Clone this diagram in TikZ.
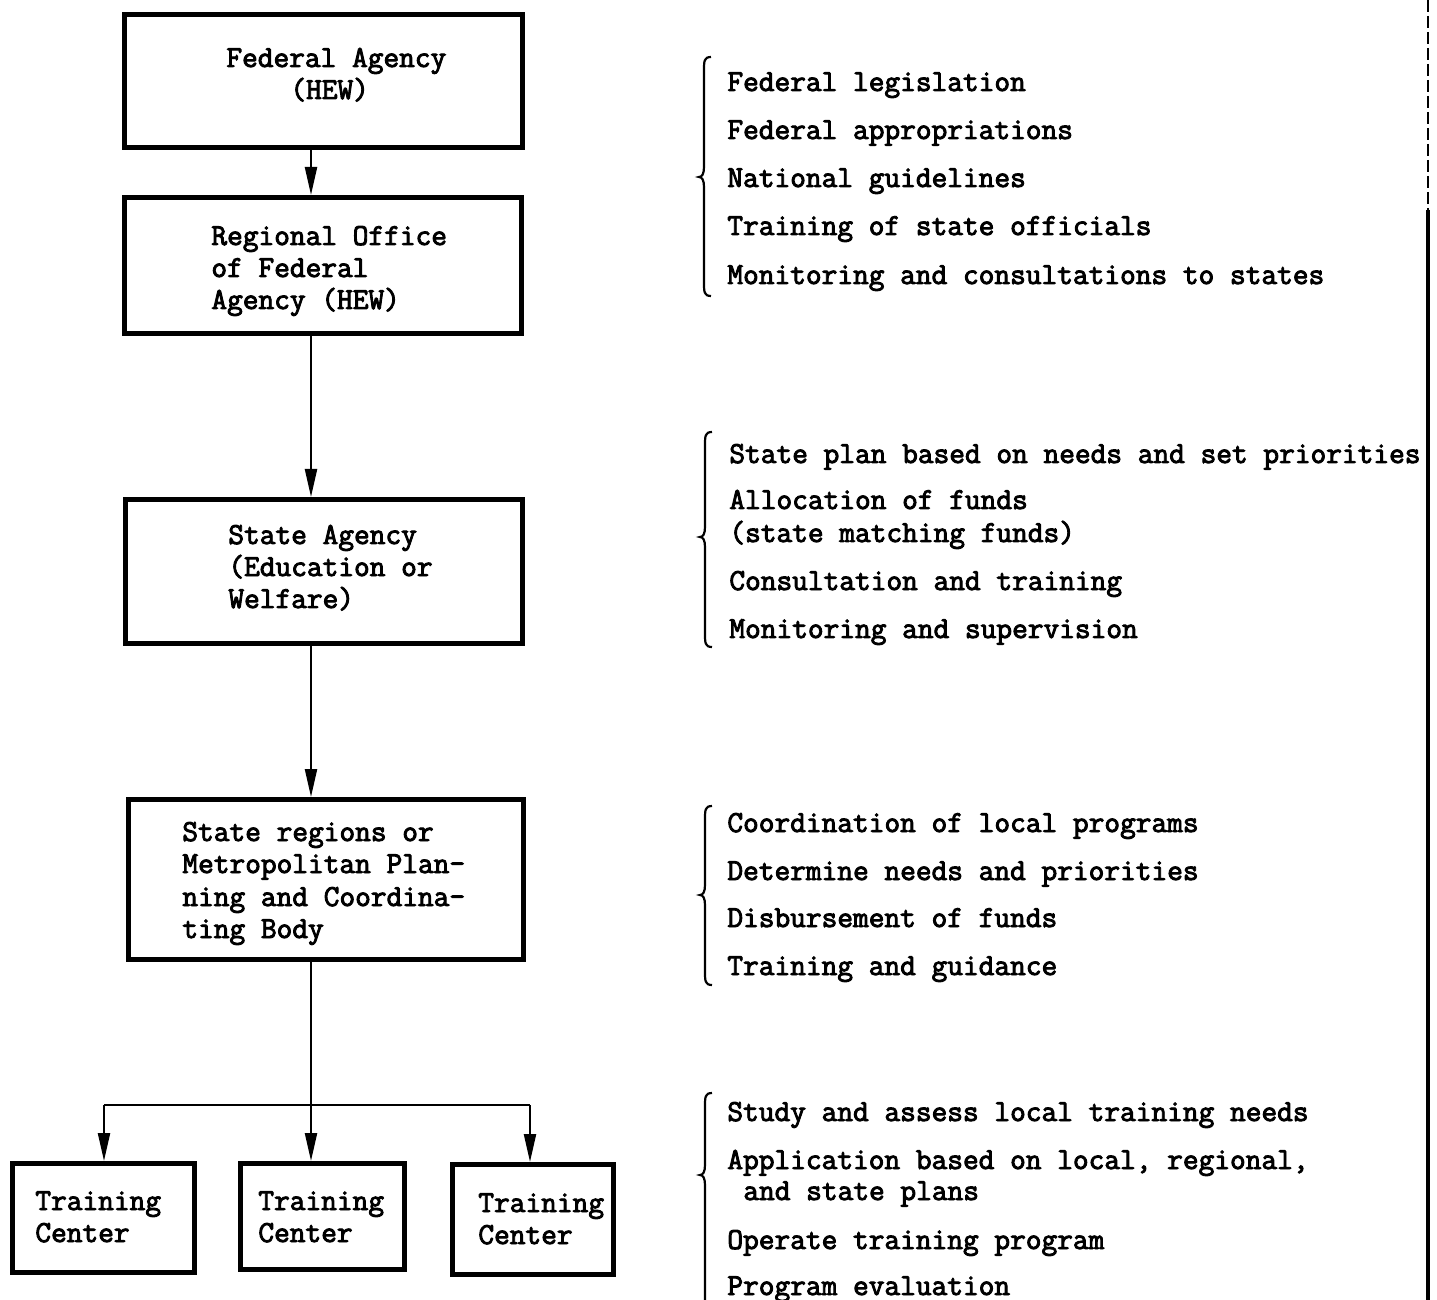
\documentclass[tikz,border=0pt]{standalone}
\usepackage{fontspec}
\newfontfamily\twfont{Latin Modern Mono}[FakeBold=3]
\usetikzlibrary{arrows.meta}
\newcommand\tfs{\fontsize{15.25}{16}\selectfont\twfont}
\newcommand\mybrace[4]{\draw[brc] ({#1+7},#2) .. controls (#1,#2) and (#1,{#2+4}) .. (#1,{#2+14}) -- (#1,{#3-10}) .. controls (#1,{#3-3}) and ({#1-2},#3) .. ({#1-5},#3) .. controls ({#1-2},#3) and (#1,{#3+3}) .. (#1,{#3+10}) -- (#1,{#4-14}) .. controls (#1,{#4-4}) and (#1,#4) .. ({#1+7},#4);}
\begin{document}
\begin{tikzpicture}[x=0.5pt,y=-0.5pt,
  box/.style={draw, line width=2.5pt, inner sep=0pt},
  lbl/.style={anchor=base west, inner sep=0pt, font=\tfs},
  arr/.style={line width=1.1pt, -{Triangle[length=14pt,width=6pt]}},
  conn/.style={line width=1.1pt},
  brc/.style={line width=1.1pt}]
\fill[white] (0,0) rectangle (1437,1300);
\useasboundingbox (0,0) rectangle (1437,1300);

% boxes
\node[box, minimum width=199pt, minimum height=66.5pt] (b1) at (323.5,81) {};
\node[box, minimum width=198.5pt, minimum height=68pt] (b2) at (323,265.5) {};
\node[box, minimum width=198.5pt, minimum height=72pt] (b3) at (324,571.5) {};
\node[box, minimum width=197.5pt, minimum height=80pt] (b4) at (326,879.5) {};
\node[box, minimum width=91pt, minimum height=54.5pt] (tc1) at (103.5,1218) {};
\node[box, minimum width=82pt, minimum height=53pt] (tc2) at (322.5,1216.5) {};
\node[box, minimum width=80.5pt, minimum height=55pt] (tc3) at (533,1219.5) {};

% box texts
\node[lbl] (t1a) at (226,67) {Federal Agency};
\node[lbl] (t1b) at (290,99) {(HEW)};
\node[lbl] (t2a) at (211,245) {Regional Office};
\node[lbl] (t2b) at (211,277) {of Federal};
\node[lbl] (t2c) at (211,309) {Agency (HEW)};
\node[lbl] (t3a) at (228,544) {State Agency};
\node[lbl] (t3b) at (228,576) {(Education or};
\node[lbl] (t3c) at (228,608) {Welfare)};
\node[lbl] (t4a) at (182,841) {State regions or};
\node[lbl] (t4b) at (182,873) {Metropolitan Plan-};
\node[lbl] (t4c) at (182,906) {ning and Coordina-};
\node[lbl] (t4d) at (182,938) {ting Body};
\node[lbl] (c1a) at (35,1210) {Training};
\node[lbl] (c1b) at (35,1242) {Center};
\node[lbl] (c2a) at (258,1210) {Training};
\node[lbl] (c2b) at (258,1242) {Center};
\node[lbl] (c3a) at (478,1212) {Training};
\node[lbl] (c3b) at (478,1244) {Center};

% connectors
\coordinate (mx) at (311,0);
\draw[arr] (b1.south -| mx) -- (b2.north -| mx);
\draw[arr] (b2.south -| mx) -- (b3.north -| mx);
\draw[arr] (b3.south -| mx) -- (b4.north -| mx);
\draw[arr] (b4.south -| mx) -- (tc2.north -| mx);
\coordinate (fl) at (104,1105);
\coordinate (fr) at (530,1105);
\draw[conn] (fl) -- (fr);
\draw[arr] (fl) -- (fl |- tc1.north);
\draw[arr] (fr) -- (fr |- tc3.north);

% right side lists
\mybrace{704}{57}{177}{296}
\node[lbl] (r1a) at (727,91) {Federal legislation};
\node[lbl] (r1b) at (727,139) {Federal appropriations};
\node[lbl] (r1c) at (727,187) {National guidelines};
\node[lbl] (r1d) at (727,235) {Training of state officials};
\node[lbl] (r1e) at (727,284) {Monitoring and consultations to states};

\mybrace{705}{432}{537}{647}
\node[lbl] (r2a) at (729,463) {State plan based on needs and set priorities};
\node[lbl] (r2b) at (729,509) {Allocation of funds};
\node[lbl] (r2c) at (729,542) {(state matching funds)};
\node[lbl] (r2d) at (729,590) {Consultation and training};
\node[lbl] (r2e) at (729,638) {Monitoring and supervision};

\mybrace{705}{806}{895}{985}
\node[lbl] (r3a) at (727,832) {Coordination of local programs};
\node[lbl] (r3b) at (727,880) {Determine needs and priorities};
\node[lbl] (r3c) at (727,927) {Disbursement of funds};
\node[lbl] (r3d) at (727,975) {Training and guidance};

\mybrace{705}{1093}{1175}{1308}
\node[lbl] (r4a) at (727,1121) {Study and assess local training needs};
\node[lbl] (r4b) at (727,1169) {Application based on local, regional,};
\node[lbl] (r4c) at (743,1200) {and state plans};
\node[lbl] (r4d) at (727,1249) {Operate training program};
\node[lbl] (r4e) at (727,1295) {Program evaluation};

% right edge line
\coordinate (rt) at (1428,0);
\coordinate (rm) at (1428,210);
\coordinate (rb) at (1428,1300);
\draw[line width=0.6pt, dash pattern=on 6pt off 2pt] (rt) -- (rm);
\draw[line width=1.6pt] (rm) -- (rb);
\end{tikzpicture}
\end{document}
